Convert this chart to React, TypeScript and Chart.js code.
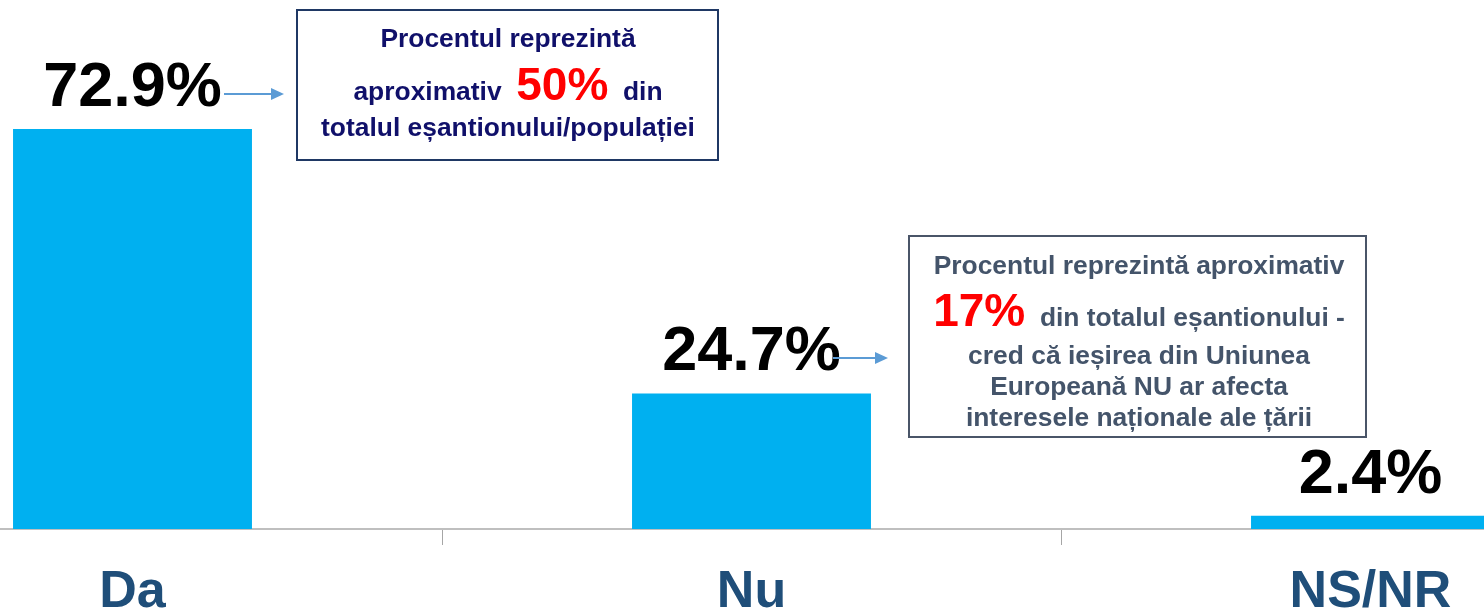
import React, { useEffect, useRef } from "react";
import { Chart, registerables } from "chart.js";

Chart.register(...registerables);

const categories = ["Da", "Nu", "NS/NR"];
const values = [72.9, 24.7, 2.4];
const valueLabels = ["72.9%", "24.7%", "2.4%"];

const note1Lines = [
  [{ t: "Procentul reprezintă", red: false }],
  [
    { t: "aproximativ  ", red: false },
    { t: "50%", red: true },
    { t: "  din", red: false },
  ],
  [{ t: "totalul eșantionului/populației", red: false }],
];

const note2Lines = [
  [{ t: "Procentul reprezintă aproximativ", red: false }],
  [
    { t: "17%", red: true },
    { t: "  din totalul eșantionului -", red: false },
  ],
  [{ t: "cred că ieșirea din Uniunea", red: false }],
  [{ t: "Europeană NU ar afecta", red: false }],
  [{ t: "interesele naționale ale țării", red: false }],
];

const FONT = "'Liberation Sans', Arial, sans-serif";
const OFFSET_X = 177; // canvas starts 177px left of the page
const CANVAS_W = 1857;
const CANVAS_H = 614;

type Run = { t: string; red: boolean };

function drawRuns(
  ctx: CanvasRenderingContext2D,
  runs: Run[],
  cx: number,
  baseline: number,
  color: string
) {
  const fontFor = (r: Run) => (r.red ? `bold 46px ${FONT}` : `bold 26.4px ${FONT}`);
  let total = 0;
  const widths = runs.map((r) => {
    ctx.font = fontFor(r);
    const w = ctx.measureText(r.t).width;
    total += w;
    return w;
  });
  let x = cx - total / 2;
  ctx.textAlign = "left";
  ctx.textBaseline = "alphabetic";
  runs.forEach((r, i) => {
    ctx.font = fontFor(r);
    ctx.fillStyle = r.red ? "#FF0000" : color;
    ctx.fillText(r.t, x, baseline);
    x += widths[i];
  });
}

function drawArrow(ctx: CanvasRenderingContext2D, x1: number, x2: number, y: number) {
  const head = 13;
  ctx.save();
  ctx.strokeStyle = "#5B9BD5";
  ctx.fillStyle = "#5B9BD5";
  ctx.lineWidth = 2;
  ctx.beginPath();
  ctx.moveTo(x1, y);
  ctx.lineTo(x2 - head + 1, y);
  ctx.stroke();
  ctx.beginPath();
  ctx.moveTo(x2, y);
  ctx.lineTo(x2 - head, y - 6);
  ctx.lineTo(x2 - head, y + 6);
  ctx.closePath();
  ctx.fill();
  ctx.restore();
}

const annotationPlugin = {
  id: "annotations",
  afterDraw(chart: any) {
    const ctx: CanvasRenderingContext2D = chart.ctx;
    ctx.save();
    const meta = chart.getDatasetMeta(0);
    ctx.font = `bold 63px ${FONT}`;
    ctx.fillStyle = "#000000";
    ctx.textAlign = "center";
    ctx.textBaseline = "alphabetic";
    meta.data.forEach((bar: any, i: number) => {
      ctx.fillText(valueLabels[i], bar.x, bar.y - 23);
    });

    const px = (x: number) => x + OFFSET_X;

    drawArrow(ctx, px(224), px(284), 94);
    drawArrow(ctx, px(833), px(888), 358);

    ctx.fillStyle = "#FFFFFF";
    ctx.fillRect(px(297), 10, 421, 150);
    ctx.strokeStyle = "#1F3864";
    ctx.lineWidth = 2;
    ctx.strokeRect(px(297), 10, 421, 150);
    const b1 = [47, 100, 136];
    note1Lines.forEach((runs, i) => drawRuns(ctx, runs, px(508), b1[i], "#10106A"));

    ctx.fillStyle = "#FFFFFF";
    ctx.fillRect(px(909), 236, 457, 201);
    ctx.strokeStyle = "#4A5568";
    ctx.lineWidth = 2;
    ctx.strokeRect(px(909), 236, 457, 201);
    const b2 = [274, 326, 364, 395, 426];
    note2Lines.forEach((runs, i) => drawRuns(ctx, runs, px(1139), b2[i], "#44546A"));

    ctx.restore();
  },
};

export default function App() {
  const ref = useRef<HTMLCanvasElement | null>(null);

  useEffect(() => {
    document.body.style.margin = "0";
    const canvas = ref.current;
    if (!canvas) return;
    let chart: Chart | null = null;
    let cancelled = false;
    const build = () => {
      if (cancelled) return;
      chart = new Chart(canvas, {
        type: "bar",
        data: {
          labels: categories,
          datasets: [
            {
              data: values,
              backgroundColor: "#00B0F0",
              borderWidth: 0,
              barPercentage: 0.386,
              categoryPercentage: 1,
            },
          ],
        },
        options: {
          animation: false,
          responsive: false,
          devicePixelRatio: 1,
          layout: { padding: 0 },
          plugins: {
            legend: { display: false },
            tooltip: { enabled: false },
            title: { display: false },
          },
          scales: {
            y: { display: false, min: 0, max: 96.4 },
            x: {
              afterFit: (scale: any) => {
                scale.height = 85;
              },
              grid: {
                offset: true,
                drawOnChartArea: false,
                drawTicks: true,
                tickLength: 16,
                color: "#A6A6A6",
                lineWidth: 1,
              },
              border: { display: true, color: "#BFBFBF", width: 2 },
              ticks: {
                padding: 16,
                color: "#1F4E79",
                maxRotation: 0,
                autoSkip: false,
                font: { family: FONT, size: 52, weight: "bold", lineHeight: 1.2 },
              },
            },
          },
        },
        plugins: [annotationPlugin],
      });
    };
    const fontsApi: any = (document as any).fonts;
    if (fontsApi && fontsApi.load) {
      Promise.all([
        fontsApi.load("bold 26px 'Liberation Sans'"),
        fontsApi.load("bold 63px 'Liberation Sans'"),
      ])
        .catch(() => null)
        .then(build);
    } else {
      build();
    }
    return () => {
      cancelled = true;
      if (chart) chart.destroy();
    };
  }, []);

  return (
    <div
      style={{
        position: "fixed",
        left: 0,
        top: 0,
        width: 1484,
        height: 614,
        overflow: "hidden",
        background: "#FFFFFF",
        fontFamily: FONT,
      }}
    >
      <div style={{ position: "absolute", left: -OFFSET_X, top: 0, width: CANVAS_W, height: CANVAS_H }}>
        <canvas ref={ref} width={CANVAS_W} height={CANVAS_H} style={{ display: "block" }} />
      </div>
    </div>
  );
}
